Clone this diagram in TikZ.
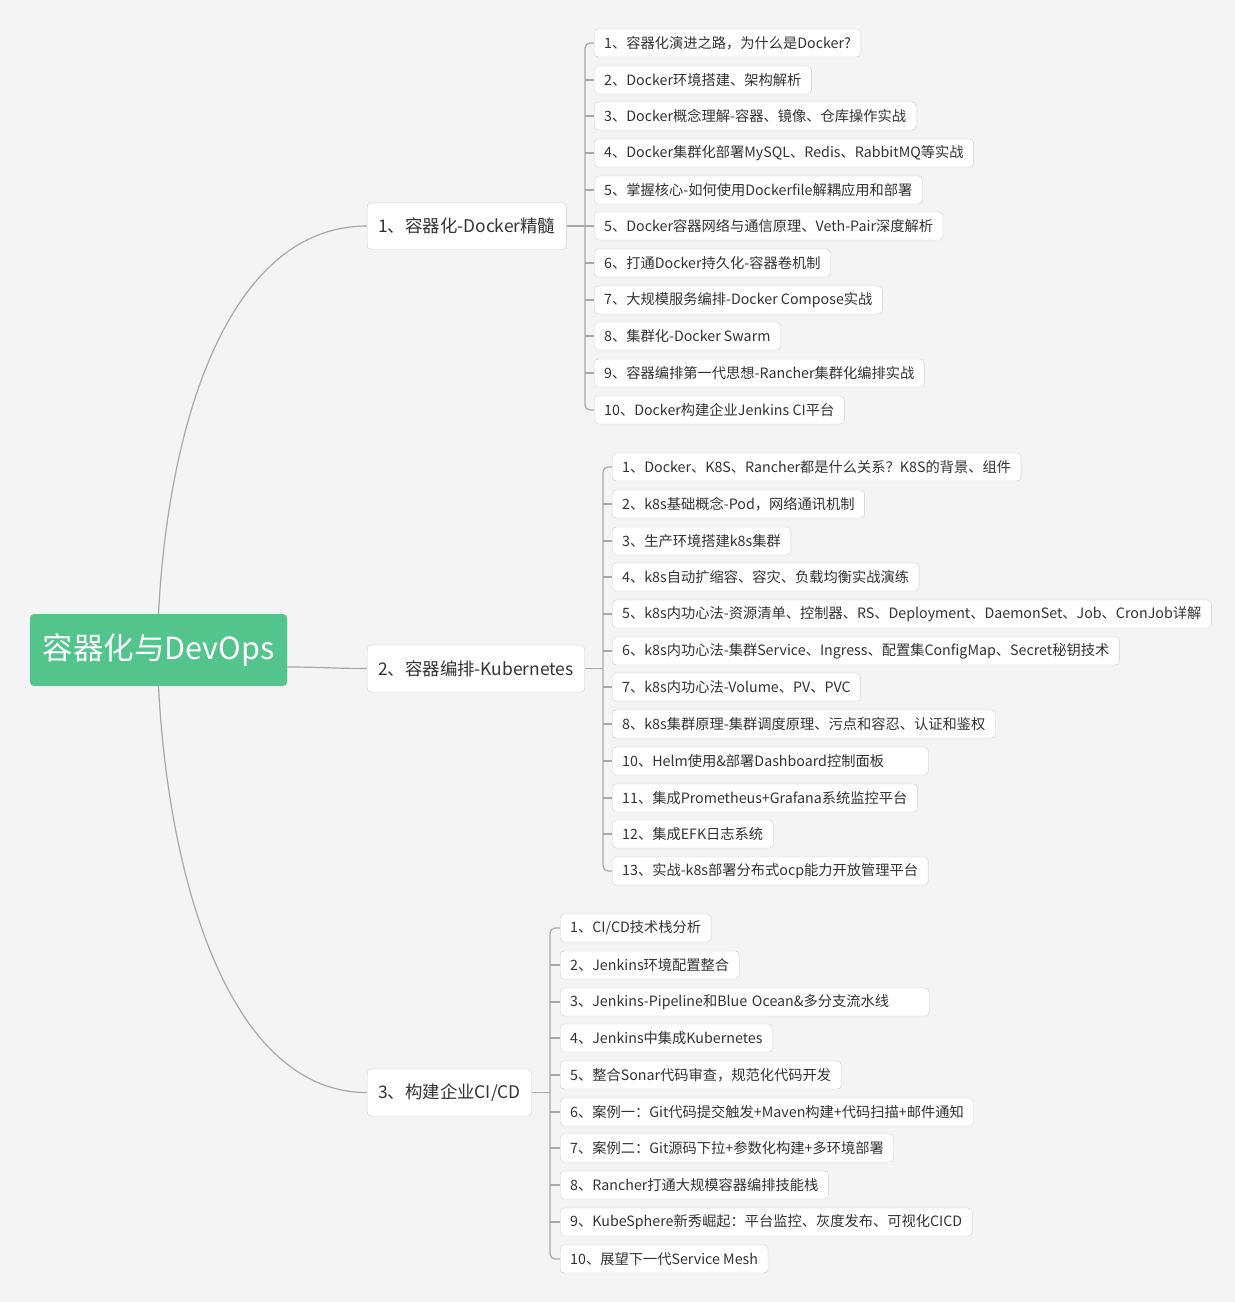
\documentclass[tikz,border=0pt]{standalone}
\usepackage{fontspec}
\setmainfont{Noto Sans CJK SC}
\usepackage{tikz}
\usetikzlibrary{positioning}
\usepackage{xcolor}
\definecolor{bggray}{RGB}{244,244,244}
\definecolor{rootgreen}{RGB}{82,196,140}
\definecolor{boxline}{RGB}{204,204,204}
\definecolor{linkgray}{RGB}{168,168,168}
\definecolor{txtgray}{RGB}{51,51,51}

\tikzset{
	topic/.style={draw=boxline, fill=white, rounded corners=4pt, inner xsep=10pt, minimum height=28pt, anchor=west, text=txtgray, font=\fontsize{14.25}{16}\selectfont},
	branch/.style={topic, inner xsep=11pt, minimum height=47pt, font=\fontsize{17.4}{20}\selectfont},
	link/.style={draw=linkgray, line width=1.2pt}
}

\begin{document}
\begin{tikzpicture}[x=1pt, y=-1pt]
	\fill [bggray] (0, 0) rectangle (1235, 1302);
	\useasboundingbox (0, 0) rectangle (1235, 1302);

	\node [fill=rootgreen, rounded corners=4pt, minimum width=257pt, minimum height=72pt, text=white, font=\fontsize{30.5}{34}\selectfont] (root) at (158.5, 650) {容器化与DevOps};

	\node [branch] (A) at (367, 226) {1、容器化-Docker精髓};
	\node [branch] (B) at (367, 668.5) {2、容器编排-Kubernetes};
	\node [branch] (C) at (367, 1092.5) {3、构建企业CI/CD};

	% docker
	\node [topic] (d1) at (594, 43) {1、容器化演进之路，为什么是Docker?};
	\node [topic] (d2) at (594, 80) {2、Docker环境搭建、架构解析};
	\node [topic] (d3) at (594, 116) {3、Docker概念理解-容器、镜像、仓库操作实战};
	\node [topic] (d4) at (594, 153) {4、Docker集群化部署MySQL、Redis、RabbitMQ等实战};
	\node [topic] (d5) at (594, 190) {5、掌握核心-如何使用Dockerfile解耦应用和部署};
	\node [topic] (d6) at (594, 226) {5、Docker容器网络与通信原理、Veth-Pair深度解析};
	\node [topic] (d7) at (594, 263) {6、打通Docker持久化-容器卷机制};
	\node [topic] (d8) at (594, 300) {7、大规模服务编排-Docker Compose实战};
	\node [topic] (d9) at (594, 336) {8、集群化-Docker Swarm};
	\node [topic] (d10) at (594, 373) {9、容器编排第一代思想-Rancher集群化编排实战};
	\node [topic] (d11) at (594, 410) {10、Docker构建企业Jenkins CI平台};

	% kubernetes
	\node [topic] (k1) at (612, 467) {1、Docker、K8S、Rancher都是什么关系？K8S的背景、组件};
	\node [topic] (k2) at (612, 504) {2、k8s基础概念-Pod，网络通讯机制};
	\node [topic] (k3) at (612, 541) {3、生产环境搭建k8s集群};
	\node [topic] (k4) at (612, 577) {4、k8s自动扩缩容、容灾、负载均衡实战演练};
	\node [topic] (k5) at (612, 614) {5、k8s内功心法-资源清单、控制器、RS、Deployment、DaemonSet、Job、CronJob详解};
	\node [topic] (k6) at (612, 651) {6、k8s内功心法-集群Service、Ingress、配置集ConfigMap、Secret秘钥技术};
	\node [topic] (k7) at (612, 687) {7、k8s内功心法-Volume、PV、PVC};
	\node [topic] (k8) at (612, 724) {8、k8s集群原理-集群调度原理、污点和容忍、认证和鉴权};
	\node [topic, align=left, text width=296pt] (k9) at (612, 761) {10、Helm使用\&部署Dashboard控制面板};
	\node [topic] (k10) at (612, 798) {11、集成Prometheus+Grafana系统监控平台};
	\node [topic] (k11) at (612, 834) {12、集成EFK日志系统};
	\node [topic] (k12) at (612, 871) {13、实战-k8s部署分布式ocp能力开放管理平台};

	% ci/cd
	\node [topic] (c1) at (560, 928) {1、CI/CD技术栈分析};
	\node [topic] (c2) at (560, 965) {2、Jenkins环境配置整合};
	\node [topic, align=left, text width=349pt] (c3) at (560, 1002) {3、Jenkins-Pipeline和Blue Ocean\&多分支流水线};
	\node [topic] (c4) at (560, 1038) {4、Jenkins中集成Kubernetes};
	\node [topic] (c5) at (560, 1075) {5、整合Sonar代码审查，规范化代码开发};
	\node [topic] (c6) at (560, 1112) {6、案例一：Git代码提交触发+Maven构建+代码扫描+邮件通知};
	\node [topic] (c7) at (560, 1148) {7、案例二：Git源码下拉+参数化构建+多环境部署};
	\node [topic] (c8) at (560, 1185) {8、Rancher打通大规模容器编排技能栈};
	\node [topic] (c9) at (560, 1222) {9、KubeSphere新秀崛起：平台监控、灰度发布、可视化CICD};
	\node [topic] (c10) at (560, 1259) {10、展望下一代Service Mesh};

	\coordinate (dhub) at (585, 226);
	\coordinate (khub) at (603, 668.5);
	\coordinate (chub) at (550, 1092.5);

	\draw [link] (root.north) .. controls +(10, -195) and +(-137, 0) .. (A.west);
	\draw [link] ([yshift=-17pt]root.east) to [out=0, in=180] (B.west);
	\draw [link] (root.south) .. controls +(10, 195) and +(-137, 0) .. (C.west);

	\draw [link] (A.east) -- (dhub);
	\draw [link] (B.east) -- (khub);
	\draw [link] (C.east) -- (chub);
	\draw [link, rounded corners=5pt] (d1.west) -| (dhub) |- (d11.west);
	\draw [link, rounded corners=5pt] (k1.west) -| (khub) |- (k12.west);
	\draw [link, rounded corners=5pt] (c1.west) -| (chub) |- (c10.west);
	\foreach \n in {d2, d3, d4, d5, d6, d7, d8, d9, d10}
		\draw [link] (\n.west) -- (\n.west -| dhub);
	\foreach \n in {k2, k3, k4, k5, k6, k7, k8, k9, k10, k11}
		\draw [link] (\n.west) -- (\n.west -| khub);
	\foreach \n in {c2, c3, c4, c5, c6, c7, c8, c9}
		\draw [link] (\n.west) -- (\n.west -| chub);
\end{tikzpicture}
\end{document}
